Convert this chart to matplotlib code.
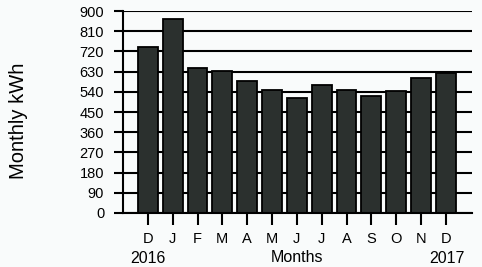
import matplotlib.pyplot as plt

# monthly energy use, Dec 2016 .. Dec 2017
months = ["D", "J", "F", "M", "A", "M", "J", "J", "A", "S", "O", "N", "D"]
kwh = [738, 863, 647, 633, 588, 548, 514, 570, 548, 521, 545, 600, 622]
yticks = list(range(0, 901, 90))
year_labels = ["2016", "2017"]

BG = "#f9fbfb"
BAR = "#2b302e"

plt.rcParams.update({
    "font.family": ["Liberation Sans", "DejaVu Sans"],
    "axes.linewidth": 1.5,
})

fig = plt.figure(figsize=(4.82, 2.67), dpi=100, facecolor=BG)
ax = fig.add_axes([123 / 482, 54 / 267, 349 / 482, 202 / 267])
ax.set_facecolor(BG)

x = list(range(len(months)))
ax.bar(x, kwh, width=0.8, color=BAR, edgecolor="black", linewidth=1.3, zorder=2)

ax.set_xlim(-1.0, 13.05)
ax.set_ylim(0, 900)
ax.set_yticks(yticks)
ax.set_xticks(x)
ax.set_xticklabels(months, fontsize=10.5)
ax.tick_params(axis="y", labelsize=10.5, length=6.5, width=1.5, pad=7, color="black")
ax.tick_params(axis="x", length=8.5, width=1.5, pad=5, color="black")

ax.yaxis.grid(True, color="black", linewidth=1.5)
ax.set_axisbelow(True)
for side in ("top", "right"):
    ax.spines[side].set_visible(False)

ax.set_xlabel("Months", fontsize=11.5, labelpad=3)
trans = ax.get_xaxis_transform()
ax.text(0, -0.223, year_labels[0], transform=trans, ha="center", va="center", fontsize=11.5)
ax.text(12.05, -0.223, year_labels[1], transform=trans, ha="center", va="center", fontsize=11.5)

fig.text(19 / 482, 1 - 121 / 267, "Monthly kWh", rotation=90, ha="center", va="center", fontsize=14.5)

fig.savefig("out.png", dpi=100, facecolor=BG)
